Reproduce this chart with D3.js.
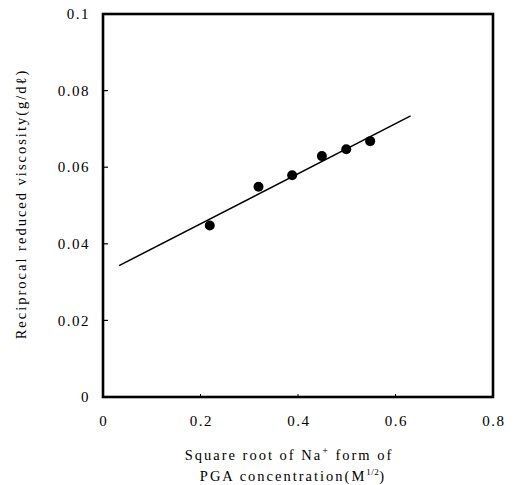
<!DOCTYPE html>
<html lang="en">
<head>
  <meta charset="UTF-8">
  <title>Reciprocal reduced viscosity vs PGA concentration</title>
  <style>
    body { margin: 0; background: #fff; }
    text { font-family: "Liberation Serif", "DejaVu Serif", serif; fill: #000; }
    .tick-label { font-size: 15px; letter-spacing: 1.5px; }
    .axis-title { font-size: 14.5px; letter-spacing: 2px; }
  </style>
</head>
<body>
  <svg width="516" height="485"></svg>

  <script src="https://d3js.org/d3.v7.min.js"></script>
  <script>
    // measured points
    const sqrtConc = [0.219, 0.319, 0.388, 0.449, 0.499, 0.548];
    const recipVisc = [0.0448, 0.0549, 0.0579, 0.0629, 0.0647, 0.0668];

    // fitted line end points
    const fitX = [0.033, 0.631];
    const fitY = [0.0343, 0.0734];

    const xTicks = [0, 0.2, 0.4, 0.6, 0.8];
    const xTickLabels = ["0", "0.2", "0.4", "0.6", "0.8"];
    const yTicks = [0, 0.02, 0.04, 0.06, 0.08, 0.1];
    const yTickLabels = ["0", "0.02", "0.04", "0.06", "0.08", "0.1"];

    const svg = d3.select("svg");

    const x = d3.scaleLinear().domain([0, 0.8]).range([103, 493]);
    const y = d3.scaleLinear().domain([0, 0.1]).range([397, 14]);

    // inward ticks
    svg.append("g")
      .selectAll("line")
      .data(yTicks.slice(1, -1))
      .enter().append("line")
      .attr("x1", x(0)).attr("x2", x(0) + 5)
      .attr("y1", d => y(d)).attr("y2", d => y(d))
      .attr("stroke", "#000").attr("stroke-width", 1.2);

    svg.append("g")
      .selectAll("line")
      .data(xTicks.slice(1, -1))
      .enter().append("line")
      .attr("x1", d => x(d)).attr("x2", d => x(d))
      .attr("y1", y(0)).attr("y2", y(0) - 3)
      .attr("stroke", "#000").attr("stroke-width", 1);

    // frame
    svg.append("rect")
      .attr("x", x(0)).attr("y", y(0.1))
      .attr("width", x(0.8) - x(0))
      .attr("height", y(0) - y(0.1))
      .attr("fill", "none")
      .attr("stroke", "#000")
      .attr("stroke-width", 2.6);

    // tick labels
    svg.append("g")
      .selectAll("text")
      .data(yTicks)
      .enter().append("text")
      .attr("class", "tick-label")
      .attr("x", x(0) - 13)
      .attr("y", d => y(d))
      .attr("dy", "0.35em")
      .attr("text-anchor", "end")
      .text((d, i) => yTickLabels[i]);

    svg.append("g")
      .selectAll("text")
      .data(xTicks)
      .enter().append("text")
      .attr("class", "tick-label")
      .attr("x", d => x(d) + 0.75)
      .attr("y", y(0) + 29)
      .attr("text-anchor", "middle")
      .text((d, i) => xTickLabels[i]);

    // fitted line
    const line = d3.line()
      .x(d => x(d[0]))
      .y(d => y(d[1]));

    svg.append("path")
      .datum(d3.zip(fitX, fitY))
      .attr("d", line)
      .attr("fill", "none")
      .attr("stroke", "#000")
      .attr("stroke-width", 1.5);

    // points
    svg.append("g")
      .selectAll("circle")
      .data(d3.zip(sqrtConc, recipVisc))
      .enter().append("circle")
      .attr("cx", d => x(d[0]))
      .attr("cy", d => y(d[1]))
      .attr("r", 5)
      .attr("fill", "#000");

    // axis titles
    const xt1 = svg.append("text")
      .attr("class", "axis-title")
      .attr("x", 289).attr("y", 460)
      .attr("text-anchor", "middle");
    xt1.append("tspan").text("Square root of Na");
    xt1.append("tspan").attr("dy", -6).attr("font-size", 10).text("+");
    xt1.append("tspan").attr("dy", 6).text(" form of");

    const xt2 = svg.append("text")
      .attr("class", "axis-title")
      .attr("x", 293).attr("y", 481)
      .attr("text-anchor", "middle");
    xt2.append("tspan").text("PGA concentration(M");
    xt2.append("tspan").attr("dy", -6).attr("font-size", 9).attr("letter-spacing", 0.5).text("1/2");
    xt2.append("tspan").attr("dy", 6).text(")");

    svg.append("text")
      .attr("class", "axis-title")
      .attr("transform", "translate(26,204) rotate(-90)")
      .attr("text-anchor", "middle")
      .text("Reciprocal reduced viscosity(g/dℓ)");
  </script>
</body>
</html>
